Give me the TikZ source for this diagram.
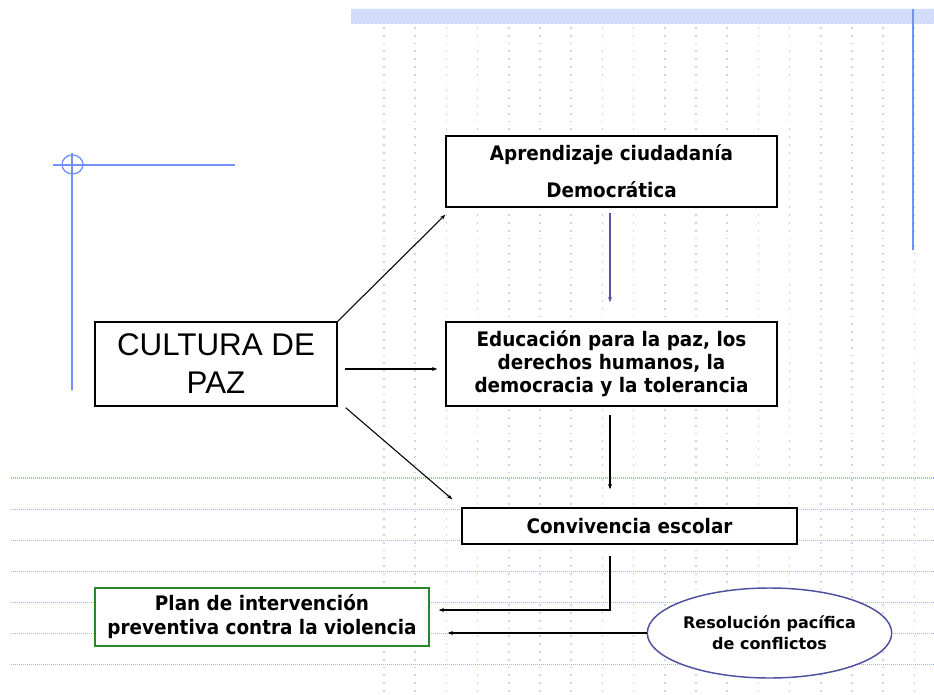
\documentclass[tikz,border=0pt]{standalone}
\usepackage{fontspec}
\setmainfont{DejaVu Sans}
\newfontfamily\tah[FakeStretch=0.92]{DejaVu Sans}
\newfontfamily\arl{Liberation Sans}
\usetikzlibrary{arrows.meta,calc,shapes.geometric,patterns}
\definecolor{gridblue}{RGB}{200,212,250}
\definecolor{gridhblue}{RGB}{165,180,248}
\definecolor{lineblue}{RGB}{115,145,250}
\definecolor{bandblue}{RGB}{214,224,252}
\definecolor{banddot}{RGB}{185,200,250}
\definecolor{arrpurple}{RGB}{85,85,165}
\definecolor{plangreen}{RGB}{40,135,40}
\definecolor{ellblue}{RGB}{80,80,160}
\begin{document}
\begin{tikzpicture}[x=0.75pt,y=-0.75pt,
  wh/.style 2 args={minimum width=#1*0.75pt,minimum height=#2*0.75pt},
  box/.style={draw=black,line width=1.1pt,fill=white,rectangle,inner sep=0pt,align=center},
  tfont/.style={font=\tah\bfseries\fontsize{15}{#1}\selectfont},
  conn/.style={draw=black,line width=0.8pt,-{Stealth[length=4pt,width=3pt]}},
  gridv/.style={draw=gridblue,line width=1.3pt,dash pattern=on 1.3pt off 4.55pt},
  gridh/.style={draw=gridhblue,line width=0.8pt,dash pattern=on 0.75pt off 0.75pt},
  guide/.style={draw=lineblue,line width=1.5pt}]
\fill[white] (0,0) rectangle (934,695);
\useasboundingbox (0,0) rectangle (934,695);
% background band
\fill[bandblue] (351,9) rectangle (934,24);
\fill[pattern=crosshatch dots,pattern color=banddot] (351,9) rectangle (934,24);
% dotted grid
\foreach \k in {0,...,17} {\draw[gridv] ({384+31.2*\k},27) -- ({384+31.2*\k},695);}
\foreach \k in {0,...,6} {\draw[gridh] (11,{478+31.1*\k}) -- (934,{478+31.1*\k});}
% guide lines
\draw[guide] (53,165) -- (235,165);
\draw[guide] (72,153) -- (72,390);
\draw[draw=lineblue,line width=1pt] (72.5,164.5) ellipse [x radius=7.9pt,y radius=7.1pt];
\draw[guide] (913,9) -- (913,250);
% nodes
\node[box,wh={242}{84},font=\arl\fontsize{23.5}{28.5}\selectfont] (cult) at (216,364) {CULTURA DE\\PAZ};
\node[box,wh={331}{71},tfont=27.75] (apr) at (611.5,171.5) {Aprendizaje ciudadanía\\Democrática};
\node[box,wh={331}{84},tfont=17.25] (edu) at (611.5,364) {Educación para la paz, los\\derechos humanos, la\\democracia y la tolerancia};
\node[box,wh={335}{36},tfont=18] (conv) at (629.5,526) {Convivencia escolar};
\node[box,draw=plangreen,wh={334}{58},tfont=18] (plan) at (262,617) {Plan de intervención\\preventiva contra la violencia};
\node[ellipse,draw=ellblue,line width=1.1pt,fill=white,inner sep=0pt,wh={243}{90},align=center,
  font=\bfseries\fontsize{12}{15.75}\selectfont] (ell) at (769.5,633) {Resolución pacífica\\de conflictos};
% connectors
\draw[conn] (cult.north east) -- ($(apr.south west)+(0,7)$);
\draw[conn] ($(cult.east)+(7,5)$) -- ($(edu.west)+(-8,5)$);
\draw[conn] ($(cult.south east)+(8,1)$) -- ($(conv.north west)+(-9,-8)$);
\draw[conn,draw=arrpurple] ($(apr.south)+(-1.5,5)$) -- ($(edu.north)+(-1.5,-19)$);
\draw[conn] ($(edu.south)+(-1.5,8)$) -- ($(conv.north)+(-19.5,-18)$);
\draw[conn] ($(conv.south)+(-19.5,11)$) |- ($(plan.east)+(9,-7)$);
\draw[conn] (ell.west) -- ($(plan.east)+(18,16)$);
\end{tikzpicture}
\end{document}
